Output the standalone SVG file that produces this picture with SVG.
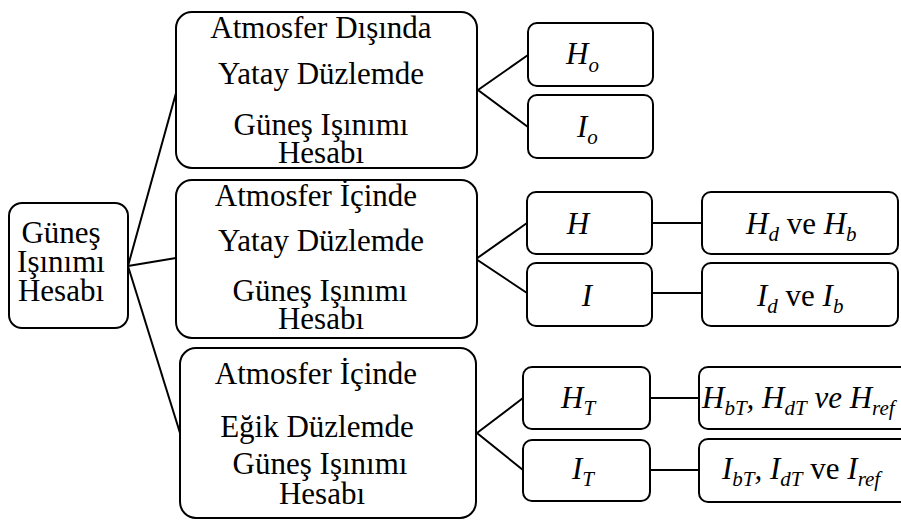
<svg xmlns="http://www.w3.org/2000/svg" width="901" height="521" viewBox="0 0 901 521">
  <style>
    .box { fill: #ffffff; stroke: #000000; stroke-width: 2; }
    .link { fill: none; stroke: #000000; stroke-width: 2; }
    text { font-family: "Liberation Serif", Tinos, "DejaVu Serif", serif; font-size: 31px; fill: #000000; }
    .c { text-anchor: middle; }
    .i { font-style: italic; }
    .s { font-style: italic; font-size: 21px; }
  </style>

  <!-- connectors -->
  <g id="connectors">
    <polyline class="link" points="176,93 128,266 176,258"/>
    <line class="link" x1="128" y1="266" x2="180" y2="433"/>
    <polyline class="link" points="528,55 478,90 528,127"/>
    <polyline class="link" points="527,223 476,259 527,293"/>
    <polyline class="link" points="523,398 477,433 523,470"/>
    <line class="link" x1="652" y1="223" x2="702" y2="223"/>
    <line class="link" x1="652" y1="293" x2="702" y2="293"/>
    <line class="link" x1="650" y1="398" x2="699" y2="398"/>
    <line class="link" x1="650" y1="470" x2="699" y2="470"/>
  </g>

  <!-- root -->
  <g id="root">
    <rect class="box" x="9" y="203" width="119" height="125" rx="13"/>
    <text class="c" x="61" y="243">Güneş</text>
    <text class="c" x="61" y="272">Işınımı</text>
    <text class="c" x="61" y="301">Hesabı</text>
  </g>

  <!-- level 1 -->
  <g id="outside-horizontal">
    <rect class="box" x="176" y="12" width="301" height="156" rx="16"/>
    <text class="c" x="321" y="38">Atmosfer Dışında</text>
    <text class="c" x="321" y="84">Yatay Düzlemde</text>
    <text class="c" x="321" y="135">Güneş Işınımı</text>
    <text class="c" x="321" y="163">Hesabı</text>
  </g>
  <g id="inside-horizontal">
    <rect class="box" x="176" y="180" width="301" height="158" rx="16"/>
    <text class="c" x="316" y="206">Atmosfer İçinde</text>
    <text class="c" x="321" y="251">Yatay Düzlemde</text>
    <text class="c" x="320" y="301">Güneş Işınımı</text>
    <text class="c" x="321" y="329">Hesabı</text>
  </g>
  <g id="inside-tilted">
    <rect class="box" x="180" y="348" width="296" height="170" rx="16"/>
    <text class="c" x="316" y="384">Atmosfer İçinde</text>
    <text class="c" x="317" y="437">Eğik Düzlemde</text>
    <text class="c" x="320" y="474">Güneş Işınımı</text>
    <text class="c" x="322" y="504">Hesabı</text>
  </g>

  <!-- level 2 -->
  <g id="Ho">
    <rect class="box" x="528" y="23" width="125" height="63" rx="9"/>
    <text x="566" y="64"><tspan class="i">H</tspan><tspan class="s" dy="8">o</tspan></text>
  </g>
  <g id="Io">
    <rect class="box" x="528" y="95" width="125" height="63" rx="9"/>
    <text x="577" y="137"><tspan class="i">I</tspan><tspan class="s" dy="7">o</tspan></text>
  </g>
  <g id="H">
    <rect class="box" x="527" y="192" width="125" height="62" rx="9"/>
    <text class="c i" x="578" y="234">H</text>
  </g>
  <g id="I">
    <rect class="box" x="527" y="263" width="125" height="63" rx="9"/>
    <text class="c i" x="587" y="306">I</text>
  </g>
  <g id="HT">
    <rect class="box" x="523" y="367" width="127" height="62" rx="9"/>
    <text x="561" y="408"><tspan class="i">H</tspan><tspan class="s" dy="7">T</tspan></text>
  </g>
  <g id="IT">
    <rect class="box" x="523" y="440" width="127" height="61" rx="9"/>
    <text x="572" y="479"><tspan class="i">I</tspan><tspan class="s" dy="7">T</tspan></text>
  </g>

  <!-- level 3 -->
  <g id="Hd-Hb">
    <rect class="box" x="702" y="192" width="196" height="62" rx="9"/>
    <text x="746" y="234"><tspan class="i">H</tspan><tspan class="s" dy="7">d</tspan><tspan dy="-7"> ve </tspan><tspan class="i">H</tspan><tspan class="s" dy="7">b</tspan></text>
  </g>
  <g id="Id-Ib">
    <rect class="box" x="702" y="263" width="196" height="63" rx="9"/>
    <text x="757" y="306"><tspan class="i">I</tspan><tspan class="s" dy="7">d</tspan><tspan dy="-7"> ve </tspan><tspan class="i">I</tspan><tspan class="s" dy="7">b</tspan></text>
  </g>
  <g id="HbT-HdT-Href">
    <rect class="box" x="699" y="367" width="212" height="62" rx="9"/>
    <text x="702" y="408"><tspan class="i">H</tspan><tspan class="s" dy="7">bT</tspan><tspan class="i" dy="-7">, H</tspan><tspan class="s" dy="7">dT</tspan><tspan class="i" dy="-7"> ve H</tspan><tspan class="s" dy="7">ref</tspan></text>
  </g>
  <g id="IbT-IdT-Iref">
    <rect class="box" x="699" y="439" width="212" height="63" rx="9"/>
    <text x="722" y="479"><tspan class="i">I</tspan><tspan class="s" dy="7">bT</tspan><tspan class="i" dy="-7">, I</tspan><tspan class="s" dy="7">dT</tspan><tspan dy="-7"> ve </tspan><tspan class="i">I</tspan><tspan class="s" dy="7">ref</tspan></text>
  </g>
</svg>
